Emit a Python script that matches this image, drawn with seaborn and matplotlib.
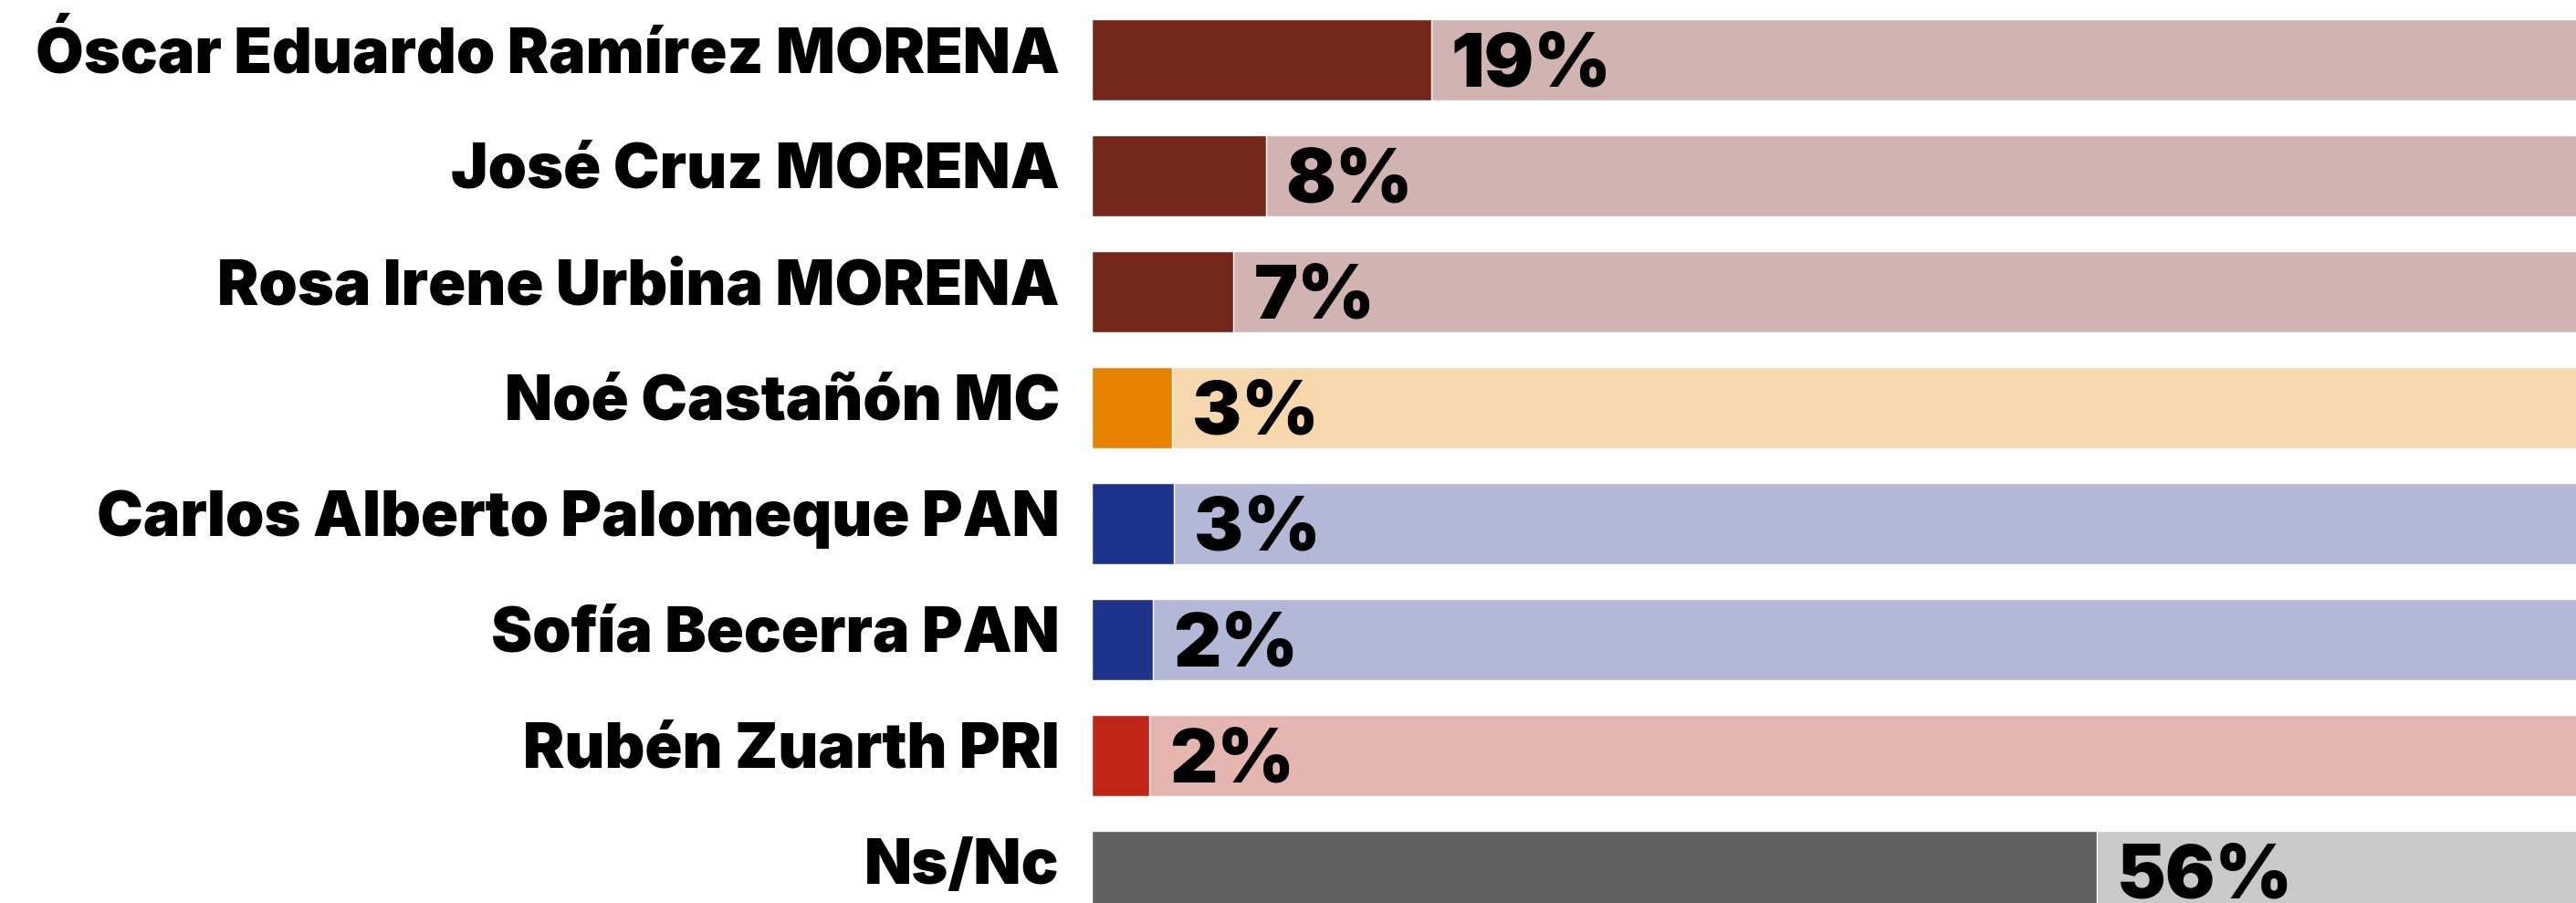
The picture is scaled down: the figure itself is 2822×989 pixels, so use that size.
import matplotlib
matplotlib.use("Agg")
import matplotlib.pyplot as plt
import seaborn as sns
import pandas as pd

# ---- data ----
candidates = [
    "Óscar Eduardo Ramírez MORENA",
    "José Cruz MORENA",
    "Rosa Irene Urbina MORENA",
    "Noé Castañón MC",
    "Carlos Alberto Palomeque PAN",
    "Sofía Becerra PAN",
    "Rubén Zuarth PRI",
    "Ns/Nc",
]
# bar lengths as drawn in the graphic (percent units)
bar_values = [18.9, 9.7, 7.9, 4.5, 4.6, 3.4, 3.2, 56.0]
value_labels = ["19%", "8%", "7%", "3%", "3%", "2%", "2%", "56%"]
dark_colors = ["#76271c", "#76271c", "#76271c", "#e68200", "#1e338b", "#1e338b", "#c02618", "#616161"]
light_colors = ["#d1b4b1", "#d1b4b1", "#d1b4b1", "#f6d7ae", "#b2b8d5", "#b2b8d5", "#e5b5b0", "#c9c9c9"]
track_value = 100

df = pd.DataFrame({"cand": candidates, "val": bar_values, "track": [track_value] * len(candidates)})

sns.set_theme(style="white")
plt.rcParams["font.family"] = ["Inter", "DejaVu Sans"]

W, H = 2822, 989
fig = plt.figure(figsize=(W / 100, H / 100), dpi=100)
fig.patch.set_facecolor("white")
left_px = 1196
ax = fig.add_axes([left_px / W, 0, 1 - left_px / W, 1])

sns.barplot(data=df, y="cand", x="track", hue="cand", palette=light_colors,
            legend=False, ax=ax, width=0.70, saturation=1, orient="h")
sns.barplot(data=df, y="cand", x="val", hue="cand", palette=dark_colors,
            legend=False, ax=ax, width=0.70, saturation=1, orient="h")

px_per_unit = 1101 / 56.0
ax.set_xlim(0, (W - left_px) / px_per_unit)
spacing = 127.0
ax.set_ylim((H - 65.5) / spacing, -65.5 / spacing)
ax.axis("off")
ax.patch.set_alpha(0)

pt = 72 / 100  # points per pixel
for i, (c, v, lab) in enumerate(zip(candidates, bar_values, value_labels)):
    ax.annotate(c, xy=(0, i), xycoords=("axes fraction", "data"),
                xytext=(-35 * pt, -13.5 * pt), textcoords="offset points",
                ha="right", va="baseline", fontsize=68 * pt, fontweight="black",
                color="black")
    ax.annotate(lab, xy=(v, i), xycoords="data",
                xytext=(22 * pt, -29 * pt), textcoords="offset points",
                ha="left", va="baseline", fontsize=81 * pt, fontweight="black",
                color="black", annotation_clip=False)

fig.savefig("out.png", dpi=100, facecolor="white")
